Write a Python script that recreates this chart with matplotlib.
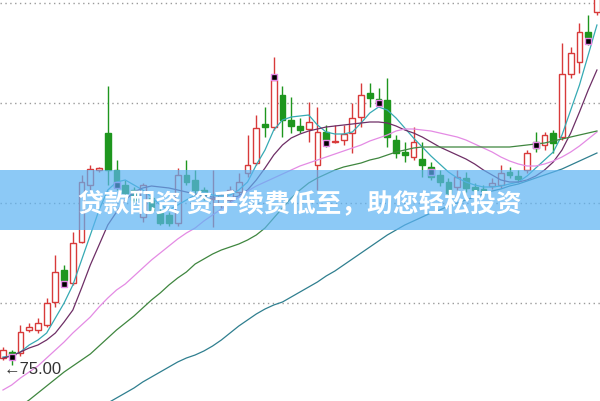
import numpy as np
import matplotlib
matplotlib.use('Agg')
import matplotlib.pyplot as plt
from matplotlib.patches import Rectangle

# daily candles (open, high, low, close), oldest first
opens = [75.07, 75.13, 75.12, 75.35, 75.35, 75.40, 75.63, 75.95, 75.82, 76.23,
         76.80, 76.95, 77.32, 76.95, 76.80, 76.75, 76.48, 76.67, 76.52, 76.50,
         76.42, 76.90, 76.85, 76.75, 76.66, 76.60, 76.65, 76.73, 76.92, 77.02,
         77.41, 77.38, 77.70, 77.45, 77.39, 77.36, 77.00, 77.33, 77.23, 77.25,
         77.32, 77.48, 77.72, 77.66, 77.65, 77.25, 77.13, 77.08, 77.06, 76.98,
         76.90, 76.83, 76.78, 76.87, 76.78, 76.76, 76.79, 76.80, 76.93, 76.89,
         76.95, 77.23, 77.20, 77.32, 77.28, 77.91, 78.03, 78.33, 78.53]
highs = [75.18, 75.15, 75.40, 75.42, 75.47, 75.67, 76.10, 76.00, 76.33, 76.90,
         77.00, 76.98, 77.79, 77.05, 76.85, 76.78, 76.82, 76.70, 76.60, 76.53,
         76.97, 77.05, 76.95, 76.78, 76.95, 76.73, 76.79, 76.92, 77.30, 77.50,
         77.58, 78.08, 77.79, 77.68, 77.47, 77.63, 77.58, 77.40, 77.40, 77.40,
         77.62, 77.82, 77.82, 77.77, 77.87, 77.30, 77.23, 77.38, 77.23, 77.03,
         76.95, 76.87, 76.95, 76.93, 76.82, 76.80, 76.87, 77.00, 76.98, 76.95,
         77.15, 77.33, 77.33, 77.35, 78.22, 78.18, 78.42, 78.50, 78.75]
lows = [75.05, 75.00, 75.09, 75.33, 75.32, 75.38, 75.58, 75.78, 75.80, 76.22,
        76.75, 76.93, 76.80, 76.75, 76.67, 76.62, 76.43, 76.52, 76.40, 76.39,
        76.39, 76.80, 76.70, 76.65, 76.38, 76.57, 76.62, 76.70, 76.88, 77.00,
        77.28, 77.35, 77.28, 77.32, 77.32, 77.23, 76.75, 77.18, 77.22, 77.20,
        77.12, 77.38, 77.58, 77.58, 77.18, 77.07, 77.03, 77.05, 76.88, 76.85,
        76.79, 76.69, 76.75, 76.73, 76.72, 76.71, 76.76, 76.77, 76.87, 76.83,
        76.92, 77.13, 77.15, 77.12, 77.25, 77.87, 77.92, 78.20, 78.50]
closes = [75.15, 75.10, 75.33, 75.38, 75.42, 75.62, 75.93, 75.85, 76.22, 76.83,
          76.96, 76.97, 76.95, 76.78, 76.72, 76.65, 76.80, 76.55, 76.42, 76.42,
          76.90, 76.83, 76.75, 76.69, 76.67, 76.70, 76.75, 76.83, 77.00, 77.37,
          77.38, 77.85, 77.45, 77.39, 77.35, 77.43, 77.33, 77.25, 77.24, 77.31,
          77.47, 77.70, 77.67, 77.62, 77.28, 77.12, 77.10, 77.23, 77.00, 76.88,
          76.83, 76.72, 76.88, 76.77, 76.75, 76.74, 76.82, 76.92, 76.90, 76.86,
          77.12, 77.17, 77.30, 77.22, 77.91, 78.12, 78.33, 78.28, 78.70]

# moving averages
ma5 = [75.08, 75.09, 75.13, 75.20, 75.25, 75.32, 75.47, 75.62, 75.80, 76.05,
       76.30, 76.55, 76.75, 76.83, 76.85, 76.80, 76.75, 76.68, 76.60, 76.55,
       76.60, 76.65, 76.70, 76.73, 76.70, 76.69, 76.70, 76.75, 76.83, 77.00,
       77.15, 77.35, 77.45, 77.48, 77.49, 77.50, 77.40, 77.33, 77.31, 77.31,
       77.33, 77.42, 77.52, 77.58, 77.55, 77.47, 77.37, 77.27, 77.18, 77.09,
       77.01, 76.93, 76.87, 76.83, 76.80, 76.78, 76.78, 76.79, 76.81, 76.83,
       76.89, 76.97, 77.05, 77.13, 77.30, 77.55, 77.80, 78.10, 78.40]
ma10 = [75.07, 75.09, 75.13, 75.17, 75.20, 75.25, 75.32, 75.43, 75.55, 75.77,
        76.00, 76.20, 76.40, 76.53, 76.65, 76.73, 76.77, 76.79, 76.78, 76.77,
        76.75, 76.73, 76.71, 76.69, 76.68, 76.67, 76.67, 76.69, 76.75, 76.85,
        76.97, 77.10, 77.20, 77.27, 77.31, 77.34, 77.36, 77.38, 77.39, 77.40,
        77.41, 77.42, 77.43, 77.43, 77.42, 77.39, 77.35, 77.32, 77.28, 77.23,
        77.18, 77.14, 77.10, 77.06, 77.01, 76.95, 76.90, 76.85, 76.83, 76.83,
        76.85, 76.89, 76.95, 77.03, 77.15, 77.32, 77.53, 77.75, 77.95]
ma20 = [74.75, 74.80, 74.87, 74.93, 74.99, 75.07, 75.15, 75.23, 75.32, 75.40,
        75.48, 75.58, 75.67, 75.75, 75.81, 75.89, 75.97, 76.05, 76.12, 76.19,
        76.26, 76.32, 76.37, 76.44, 76.50, 76.56, 76.62, 76.68, 76.74, 76.79,
        76.83, 76.87, 76.91, 76.95, 76.99, 77.02, 77.05, 77.08, 77.11, 77.14,
        77.17, 77.20, 77.24, 77.27, 77.30, 77.34, 77.36, 77.36, 77.35, 77.34,
        77.32, 77.30, 77.28, 77.25, 77.21, 77.17, 77.13, 77.08, 77.04, 77.01,
        76.99, 76.99, 77.01, 77.04, 77.08, 77.13, 77.19, 77.26, 77.33]
ma30 = [74.47, 74.53, 74.59, 74.65, 74.72, 74.79, 74.86, 74.93, 74.99, 75.05,
        75.11, 75.19, 75.27, 75.35, 75.42, 75.49, 75.57, 75.65, 75.72, 75.80,
        75.87, 75.93, 76.01, 76.06, 76.11, 76.15, 76.18, 76.21, 76.25, 76.30,
        76.37, 76.47, 76.57, 76.67, 76.75, 76.82, 76.87, 76.91, 76.95, 76.98,
        77.00, 77.02, 77.05, 77.07, 77.10, 77.13, 77.15, 77.17, 77.18, 77.18,
        77.18, 77.18, 77.18, 77.18, 77.18, 77.18, 77.18, 77.18, 77.18, 77.19,
        77.20, 77.21, 77.22, 77.24, 77.26, 77.28, 77.30, 77.32, 77.34]
ma60 = [np.nan] * 10 + [
        74.51, 74.56, 74.62, 74.67, 74.72, 74.77, 74.83, 74.88, 74.93, 74.98,
        75.03, 75.07, 75.10, 75.14, 75.19, 75.25, 75.32, 75.39, 75.45, 75.51,
        75.56, 75.60, 75.63, 75.68, 75.73, 75.78, 75.83, 75.89, 75.94, 76.00,
        76.06, 76.12, 76.18, 76.24, 76.30, 76.35, 76.40, 76.44, 76.48, 76.52,
        76.55, 76.59, 76.62, 76.65, 76.68, 76.71, 76.74, 76.76, 76.79, 76.81,
        76.84, 76.87, 76.90, 76.93, 76.96, 77.00, 77.04, 77.08, 77.12]

# signal markers (candle index, price)
signal_idx = [1, 7, 13, 31, 37, 43, 49, 61, 67]
signal_price = [75.08, 75.81, 76.80, 77.88, 77.22, 77.62, 76.93, 77.20, 78.24]

grid_levels = [75.62, 76.62, 77.62, 78.62]
banner_text = '贷款配资 资手续费低至，助您轻松投资'

RED = '#d83a3a'
GREEN = '#1e961e'

o = np.array(opens); h = np.array(highs); l = np.array(lows); c = np.array(closes)
x = np.arange(len(o))
up = c >= o

fig = plt.figure(figsize=(6, 4.01), dpi=100)
ax = fig.add_axes([0, 0, 1, 1])

for lvl in grid_levels:
    ax.axhline(lvl, color='#9a9a9a', lw=1, ls=(0, (1, 2.5)), zorder=0)

# wicks
ax.vlines(x[up], l[up], h[up], color=RED, lw=1, zorder=1)
ax.vlines(x[~up], l[~up], h[~up], color=GREEN, lw=1, zorder=1)
# bodies
w = 0.66
ax.bar(x[up], c[up] - o[up], bottom=o[up], width=w, facecolor='white',
       edgecolor=RED, lw=1, zorder=2)
ax.bar(x[~up], c[~up] - o[~up], bottom=o[~up], width=w, facecolor=GREEN,
       edgecolor=GREEN, lw=1, zorder=2)

ax.plot(x, ma5, color='#36aab4', lw=0.9, zorder=3)
ax.plot(x, ma10, color='#6e2f66', lw=0.9, zorder=3)
ax.plot(x, ma20, color='#e48be4', lw=0.9, zorder=3)
ax.plot(x, ma30, color='#3f863f', lw=0.9, zorder=3)
ax.plot(x, ma60, color='#2f7f8f', lw=0.9, zorder=3)

ax.scatter(signal_idx, signal_price, marker='s', s=24, color='black',
           edgecolors='#e58ae5', linewidths=1, zorder=4)

# lowest price label
lo_i = int(np.argmin(l))
ax.annotate('\u2190' + f'{l[lo_i]:.2f}', xy=(lo_i, l[lo_i]), xytext=(-6, -3),
            textcoords='offset points', ha='left', va='center', fontsize=12,
            color='#333333', family=['Liberation Sans', 'DejaVu Sans'], zorder=5)

ax.set_xlim(-0.34, 68.35)
ax.set_ylim(74.64, 78.65)
ax.axis('off')

# promo banner across the middle
fig.add_artist(Rectangle((0, 1 - 230 / 401), 1, 60 / 401, transform=fig.transFigure,
                         facecolor='#5cb3f3', alpha=0.7, edgecolor='none', zorder=10))
fig.text(0.5, 1 - 204 / 401, banner_text, ha='center', va='center', color='white',
         fontsize=18.5, fontweight='bold', family=['Noto Sans CJK SC', 'DejaVu Sans'],
         zorder=11)

fig.savefig('out.png', dpi=100)
